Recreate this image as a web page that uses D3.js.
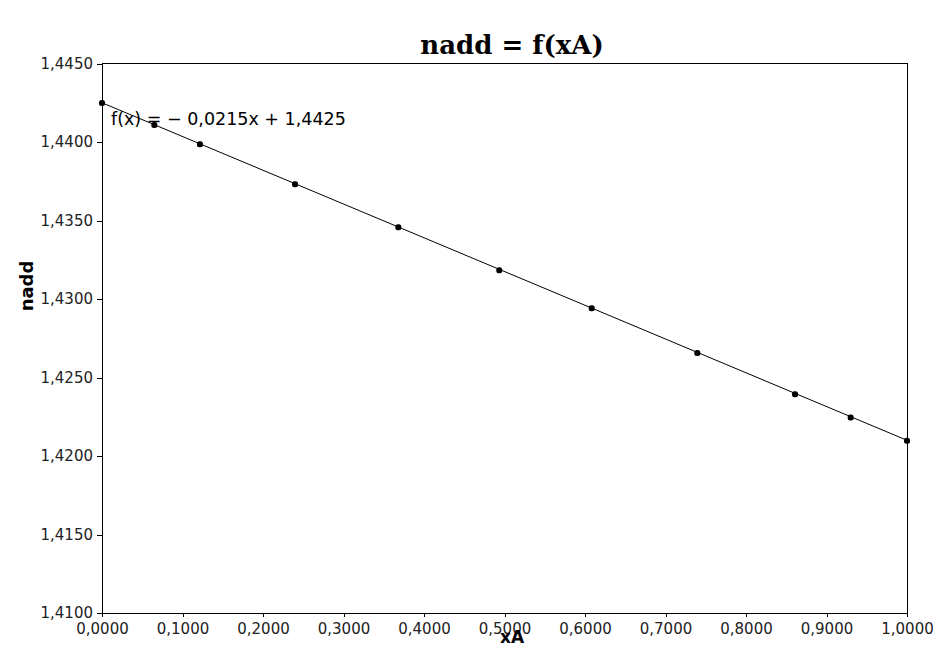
<!DOCTYPE html>
<html><head><meta charset="utf-8">
<script src="https://cdn.jsdelivr.net/npm/d3@7"></script>
<style>body{margin:0;background:#fff;} svg{display:block;}</style>
</head><body>
<svg id="c" width="934" height="661"></svg>
<script>
const xA = [0, 0.0650, 0.1217, 0.2398, 0.3681, 0.4935, 0.6083, 0.7395, 0.8609, 0.9300, 1.0000];
const nadd = [1.44248, 1.44108, 1.43985, 1.43731, 1.43457, 1.43183, 1.42941, 1.42656, 1.42393, 1.42246, 1.42097];
const fitSlope = -0.0215, fitIntercept = 1.4425;
const xTicks = [0,0.1,0.2,0.3,0.4,0.5,0.6,0.7,0.8,0.9,1.0];
const yTicks = [1.410,1.415,1.420,1.425,1.430,1.435,1.440,1.445];
const titleText = "nadd = f(xA)", xLabel = "xA", yLabel = "nadd";
const eqText = "f(x) = − 0,0215x + 1,4425";

const svg = d3.select("#c");
const L=102, R=907, T=63.5, B=613;
const x = d3.scaleLinear().domain([0,1]).range([L,R]);
const y = d3.scaleLinear().domain([1.41,1.445]).range([B,T]);
const fmt = v => d3.format(".4f")(v).replace(".", ",");

// frame
svg.append("rect").attr("x",L).attr("y",T).attr("width",R-L).attr("height",B-T)
  .attr("fill","none").attr("stroke","#000").attr("stroke-width",1).attr("shape-rendering","crispEdges");

const xa = svg.append("g").attr("transform",`translate(0,${B})`)
  .call(d3.axisBottom(x).tickValues(xTicks).tickSize(4).tickSizeOuter(0).tickPadding(4).tickFormat(fmt));
const ya = svg.append("g").attr("transform",`translate(${L},0)`)
  .call(d3.axisLeft(y).tickValues(yTicks).tickSize(5).tickSizeOuter(0).tickPadding(4).tickFormat(fmt));
[xa,ya].forEach(g=>{
  g.select(".domain").attr("stroke","#000").attr("shape-rendering","crispEdges");
  g.selectAll(".tick line").attr("stroke","#000").attr("shape-rendering","crispEdges");
  g.selectAll("text").attr("font-family","DejaVu Sans").attr("font-size",15).attr("fill","#222");
});
xa.selectAll("text").attr("dy","0.85em");

// fit line
svg.append("line")
  .attr("x1",x(0)).attr("y1",y(fitIntercept))
  .attr("x2",x(1)).attr("y2",y(fitIntercept+fitSlope))
  .attr("stroke","#000").attr("stroke-width",1);

// points
svg.selectAll("rect.pt").data(xA.map((v,i)=>[v,nadd[i]])).enter().append("rect")
  .attr("class","pt")
  .attr("x",d=>x(d[0])-3).attr("y",d=>y(d[1])-3).attr("width",6).attr("height",6)
  .attr("rx",2.5).attr("fill","#000");

// equation
svg.append("text").attr("x",111).attr("y",125).attr("font-family","DejaVu Sans")
  .attr("font-size",17.5).attr("fill","#000").text(eqText);

// title
svg.append("text").attr("x",512).attr("y",54).attr("text-anchor","middle")
  .attr("font-family","DejaVu Serif").attr("font-weight","bold").attr("font-size",26).text(titleText);

// axis labels
svg.append("text").attr("x",512).attr("y",643).attr("text-anchor","middle")
  .attr("font-family","DejaVu Sans").attr("font-weight","bold").attr("font-size",17).text(xLabel);
svg.append("text").attr("transform","translate(33,286) rotate(-90)").attr("text-anchor","middle")
  .attr("font-family","DejaVu Sans").attr("font-weight","bold").attr("font-size",18).text(yLabel);
</script>
</body></html>
